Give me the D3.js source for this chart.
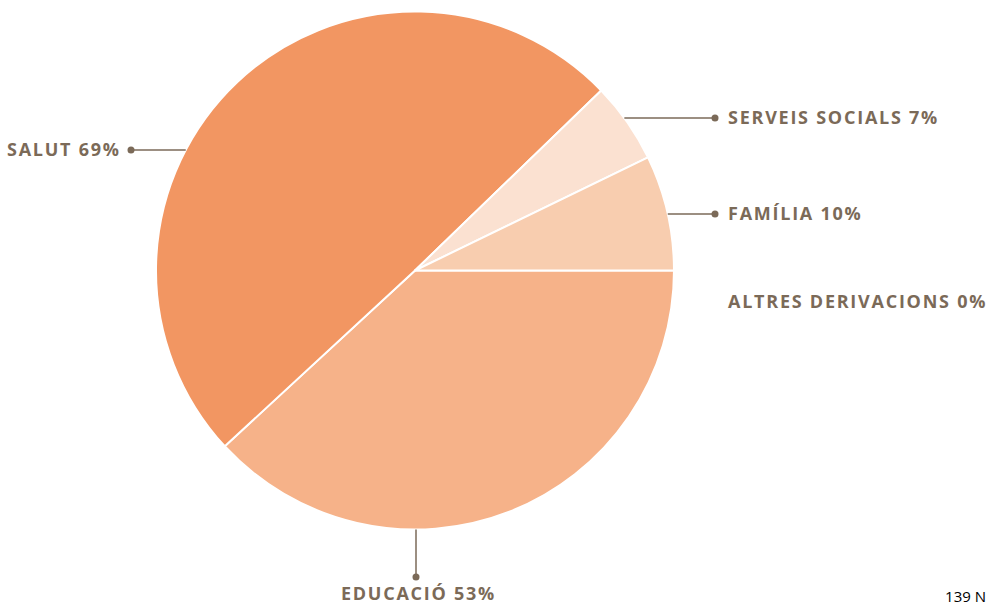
<!DOCTYPE html>
<html>
<head>
<meta charset="utf-8">
<script src="https://cdn.jsdelivr.net/npm/d3@7"></script>
<style>
  body { margin: 0; background: #fff; }
  svg { display: block; }
  .lbl { font-family: "Open Sans", sans-serif; font-weight: 700; font-size: 18px; letter-spacing: 1.75px; fill: #7b6a58; }
  .note { font-family: "Open Sans", sans-serif; font-size: 15px; fill: #000; }
</style>
</head>
<body>
<div id="chart"></div>
<script>
// data
var categories = ["EDUCACIÓ", "SALUT", "SERVEIS SOCIALS", "FAMÍLIA", "ALTRES DERIVACIONS"];
var values = [53, 69, 7, 10, 0];
var percents = ["53%", "69%", "7%", "10%", "0%"];
var colors = ["#f6b289", "#f29662", "#fbe1d1", "#f8cdaf", "#f8cdaf"];
var totalNote = "139 N";

var W = 988, H = 605;
var cx = 415, cy = 270.5, R = 259;

// label layout: side, y of leader line / text, dot position
var labelLayout = [
  {side: "bottom", dotY: 577, textY: 600},
  {side: "left", y: 150, dotX: 131, textX: 119},
  {side: "right", y: 118, dotX: 715, textX: 728},
  {side: "right", y: 214, dotX: 715, textX: 728},
  {side: "none", y: 302, textX: 728}
];

var svg = d3.select("#chart").append("svg")
    .attr("width", W)
    .attr("height", H);

var pie = d3.pie()
    .sort(null)
    .value(function(d) { return d; })
    .startAngle(Math.PI / 2)
    .endAngle(Math.PI / 2 + 2 * Math.PI);

var arc = d3.arc().innerRadius(0).outerRadius(R);

var g = svg.append("g")
    .attr("transform", "translate(" + cx + "," + cy + ")");

g.selectAll("path")
    .data(pie(values).filter(function(d) { return d.value > 0; }))
  .enter().append("path")
    .attr("d", arc)
    .attr("fill", function(d) { return colors[d.index]; })
    .attr("stroke", "#fff")
    .attr("stroke-width", 2)
    .attr("stroke-linejoin", "round");

var lineColor = "#7b6a58";

categories.forEach(function(name, i) {
  var L = labelLayout[i];
  var text = name + " " + percents[i];
  if (L.side === "left" || L.side === "right") {
    var dy = L.y - cy;
    var edge = Math.sqrt(R * R - dy * dy);
    var x0 = L.side === "left" ? cx - edge : cx + edge;
    svg.append("line")
        .attr("x1", x0).attr("y1", L.y)
        .attr("x2", L.dotX).attr("y2", L.y)
        .attr("stroke", lineColor).attr("stroke-width", 1.5);
    svg.append("circle")
        .attr("cx", L.dotX).attr("cy", L.y).attr("r", 3.5)
        .attr("fill", lineColor);
    svg.append("text")
        .attr("class", "lbl")
        .attr("x", L.side === "left" ? L.textX + 1.75 : L.textX)
        .attr("y", L.y)
        .attr("dy", "0.36em")
        .attr("text-anchor", L.side === "left" ? "end" : "start")
        .text(text);
  } else if (L.side === "bottom") {
    svg.append("line")
        .attr("x1", cx + 1).attr("y1", cy + R)
        .attr("x2", cx + 1).attr("y2", L.dotY)
        .attr("stroke", lineColor).attr("stroke-width", 1.5);
    svg.append("circle")
        .attr("cx", cx + 1).attr("cy", L.dotY).attr("r", 3.5)
        .attr("fill", lineColor);
    svg.append("text")
        .attr("class", "lbl")
        .attr("x", cx + 3.5).attr("y", L.textY)
        .attr("text-anchor", "middle")
        .text(text);
  } else {
    svg.append("text")
        .attr("class", "lbl")
        .attr("x", L.textX).attr("y", L.y)
        .attr("dy", "0.36em")
        .text(text);
  }
});

svg.append("text")
    .attr("class", "note")
    .attr("x", 986).attr("y", 602)
    .attr("text-anchor", "end")
    .text(totalNote);
</script>
</body>
</html>
